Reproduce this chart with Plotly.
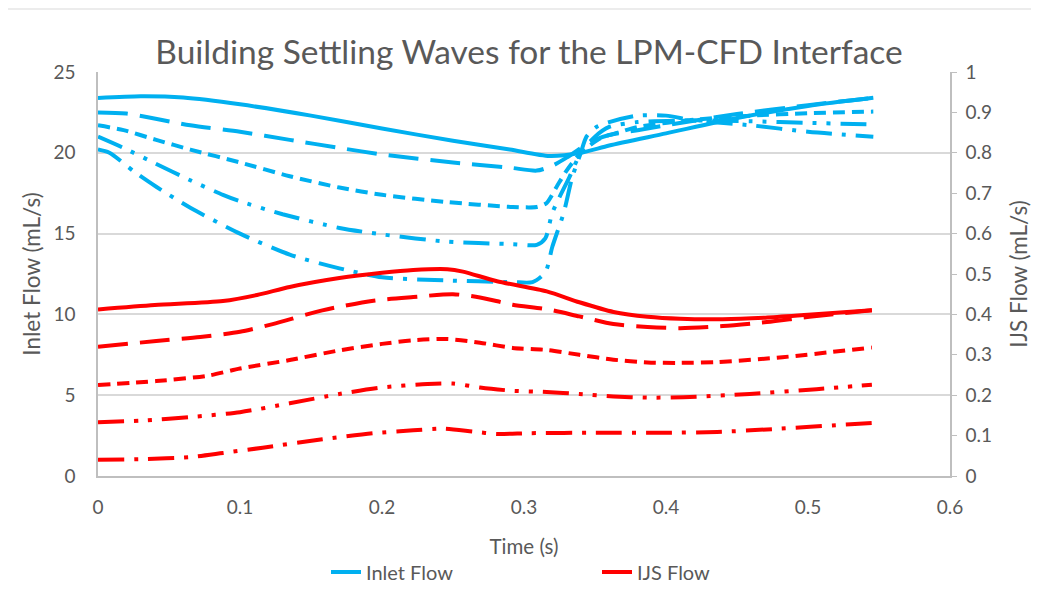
import plotly.graph_objects as go

# ---------------- data ----------------
# Inlet flow (left axis, mL/s)
inlet_solid_t = [0, 0.03, 0.06, 0.1, 0.15, 0.2, 0.25, 0.29, 0.318, 0.34, 0.36, 0.4, 0.45, 0.5, 0.546]
inlet_solid_v = [23.39, 23.5, 23.42, 23.0, 22.3, 21.5, 20.75, 20.2, 19.8, 20.0, 20.45, 21.2, 22.15, 22.9, 23.4]

inlet_ld_t = [0, 0.02, 0.065, 0.1, 0.135, 0.17, 0.2, 0.25, 0.29, 0.309, 0.32, 0.33, 0.34, 0.35, 0.36, 0.38, 0.4, 0.45, 0.5, 0.546]
inlet_ld_v = [22.5, 22.43, 21.7, 21.3, 20.8, 20.3, 19.9, 19.4, 19.08, 18.9, 19.2, 19.7, 20.3, 20.8, 21.1, 21.4, 21.7, 22.4, 22.95, 23.4]

inlet_sd_t = [0, 0.018, 0.041, 0.065, 0.1, 0.135, 0.17, 0.2, 0.246, 0.292, 0.309, 0.316, 0.323, 0.33, 0.34, 0.354, 0.368, 0.38, 0.42, 0.46, 0.5, 0.546]
inlet_sd_v = [21.7, 21.4, 20.8, 20.2, 19.4, 18.55, 17.85, 17.4, 16.95, 16.65, 16.65, 16.9, 17.9, 18.9, 20.0, 20.9, 21.3, 21.6, 22.05, 22.3, 22.45, 22.55]

inlet_ddd_t = [0, 0.018, 0.039, 0.065, 0.088, 0.1, 0.13, 0.17, 0.2, 0.246, 0.292, 0.309, 0.315, 0.32, 0.332, 0.34, 0.35, 0.36, 0.38, 0.42, 0.46, 0.5, 0.546]
inlet_ddd_v = [21.0, 20.3, 19.4, 18.3, 17.4, 17.0, 16.2, 15.35, 14.95, 14.5, 14.35, 14.3, 14.7, 16.3, 18.5, 20.0, 21.0, 21.6, 21.9, 22.0, 21.95, 21.85, 21.75]

inlet_ldd_t = [0, 0.008, 0.026, 0.041, 0.065, 0.1, 0.135, 0.17, 0.2, 0.246, 0.292, 0.306, 0.315, 0.32, 0.328, 0.334, 0.34, 0.344, 0.351, 0.36, 0.38, 0.4, 0.42, 0.46, 0.5, 0.546]
inlet_ldd_v = [20.2, 20.0, 18.8, 17.9, 16.6, 15.0, 13.7, 12.85, 12.3, 12.1, 12.0, 12.0, 12.6, 14.2, 16.3, 18.5, 20.0, 21.0, 21.6, 21.9, 22.3, 22.3, 22.0, 21.7, 21.3, 21.0]

# IJS flow (right axis, mL/s)
ijs_solid_t = [0, 0.04, 0.088, 0.112, 0.135, 0.17, 0.2, 0.222, 0.246, 0.257, 0.281, 0.316, 0.339, 0.363, 0.387, 0.41, 0.44, 0.47, 0.5, 0.545]
ijs_solid_v = [0.412, 0.423, 0.433, 0.448, 0.468, 0.49, 0.503, 0.51, 0.512, 0.506, 0.482, 0.457, 0.43, 0.406, 0.394, 0.389, 0.388, 0.392, 0.399, 0.41]

ijs_ld_t = [0, 0.041, 0.072, 0.1, 0.123, 0.158, 0.194, 0.222, 0.25, 0.269, 0.292, 0.316, 0.339, 0.363, 0.387, 0.41, 0.44, 0.471, 0.501, 0.545]
ijs_ld_v = [0.32, 0.334, 0.344, 0.357, 0.376, 0.41, 0.434, 0.443, 0.45, 0.442, 0.424, 0.413, 0.395, 0.376, 0.369, 0.366, 0.371, 0.381, 0.394, 0.41]

ijs_sd_t = [0, 0.041, 0.077, 0.1, 0.135, 0.17, 0.2, 0.222, 0.246, 0.269, 0.292, 0.316, 0.339, 0.363, 0.387, 0.41, 0.436, 0.482, 0.545]
ijs_sd_v = [0.225, 0.235, 0.248, 0.266, 0.287, 0.311, 0.327, 0.336, 0.339, 0.33, 0.317, 0.312, 0.3, 0.288, 0.281, 0.28, 0.282, 0.294, 0.318]

ijs_ddd_t = [0, 0.03, 0.065, 0.1, 0.135, 0.17, 0.2, 0.232, 0.25, 0.269, 0.292, 0.316, 0.339, 0.363, 0.387, 0.412, 0.459, 0.506, 0.545]
ijs_ddd_v = [0.133, 0.137, 0.146, 0.158, 0.18, 0.203, 0.219, 0.228, 0.229, 0.219, 0.211, 0.208, 0.203, 0.197, 0.194, 0.195, 0.203, 0.215, 0.226]

ijs_ldd_t = [0, 0.032, 0.065, 0.088, 0.116, 0.158, 0.194, 0.222, 0.243, 0.264, 0.281, 0.304, 0.35, 0.4, 0.436, 0.475, 0.53, 0.545]
ijs_ldd_v = [0.04, 0.042, 0.047, 0.057, 0.07, 0.091, 0.106, 0.113, 0.117, 0.11, 0.104, 0.106, 0.107, 0.107, 0.109, 0.116, 0.128, 0.131]

x_ticks = [0, 0.1, 0.2, 0.3, 0.4, 0.5, 0.6]

# ---------------- styling ----------------
BLUE = "#00B0F0"
RED = "#FF0000"
FONT = "Lato"
GREY = "#595959"
W = 4

dashes = {
    "solid": "solid",
    "ld": "30px,12px",
    "sd": "12px,7px",
    "ddd": "26px,10px,4px,10px,4px,10px",
    "ldd": "26px,10px,4px,10px",
}

fig = go.Figure()

inlet_series = [
    ("solid", inlet_solid_t, inlet_solid_v),
    ("ld", inlet_ld_t, inlet_ld_v),
    ("sd", inlet_sd_t, inlet_sd_v),
    ("ddd", inlet_ddd_t, inlet_ddd_v),
    ("ldd", inlet_ldd_t, inlet_ldd_v),
]
ijs_series = [
    ("solid", ijs_solid_t, ijs_solid_v),
    ("ld", ijs_ld_t, ijs_ld_v),
    ("sd", ijs_sd_t, ijs_sd_v),
    ("ddd", ijs_ddd_t, ijs_ddd_v),
    ("ldd", ijs_ldd_t, ijs_ldd_v),
]

for key, t, v in inlet_series:
    fig.add_trace(go.Scatter(
        x=t, y=v, mode="lines", name="Inlet Flow",
        line=dict(color=BLUE, width=W, dash=dashes[key], shape="spline", smoothing=0.7),
        showlegend=(key == "solid"), legendgroup="inlet", yaxis="y",
    ))
for key, t, v in ijs_series:
    fig.add_trace(go.Scatter(
        x=t, y=v, mode="lines", name="IJS Flow",
        line=dict(color=RED, width=W, dash=dashes[key], shape="spline", smoothing=0.7),
        showlegend=(key == "solid"), legendgroup="ijs", yaxis="y2",
    ))

FW, FH = 1031, 591   # page adds an 8px body margin
fig.update_layout(
    width=FW, height=FH,
    margin=dict(l=90, r=89, t=64, b=123, autoexpand=False),
    paper_bgcolor="white", plot_bgcolor="white",
    font=dict(family=FONT, color=GREY, size=19),
    title=dict(text="Building Settling Waves for the LPM-CFD Interface",
               x=(529 - 8) / FW, xanchor="center", y=1 - 44 / FH, yanchor="middle",
               font=dict(family=FONT, size=33.5, color=GREY)),
    xaxis=dict(range=[0, 0.6], tickvals=x_ticks, showgrid=False, zeroline=False,
               showline=True, linecolor="#bfbfbf", linewidth=1.5,
               ticklabelstandoff=13, tickfont=dict(size=19, color=GREY),
               title=dict(text="Time (s)", font=dict(size=20.5, color=GREY), standoff=23)),
    yaxis=dict(range=[0, 25], dtick=5, showgrid=True, gridcolor="#d9d9d9", gridwidth=1.5,
               zeroline=False, showline=True, linecolor="#bfbfbf", linewidth=1.5,
               ticklabelstandoff=17, tickfont=dict(size=19, color=GREY),
               title=dict(text="Inlet Flow (mL/s)", font=dict(size=22.5, color=GREY), standoff=7)),
    yaxis2=dict(range=[0, 1], dtick=0.1, overlaying="y", side="right", showgrid=False,
                zeroline=False, showline=True, linecolor="#bfbfbf", linewidth=1.5,
                ticks="outside", ticklen=5, tickcolor="#bfbfbf",
                ticklabelstandoff=5, tickfont=dict(size=19, color=GREY),
                title=dict(text="IJS Flow (mL/s)", font=dict(size=22.5, color=GREY), standoff=20)),
    legend=dict(orientation="h", x=(326 - 98) / 852, xanchor="left", y=(476 - 572) / 404, yanchor="middle",
                font=dict(size=20, color=GREY), entrywidth=226, entrywidthmode="pixels",
                bgcolor="rgba(0,0,0,0)"),
    shapes=[dict(type="rect", xref="paper", yref="paper",
                 x0=(7 - 98) / 852, x1=(1045 - 98) / 852,
                 y0=(476 - 605) / 404, y1=(476 - 9) / 404,
                 line=dict(color="#d9d9d9", width=1), fillcolor="rgba(0,0,0,0)", layer="below")],
)

fig.write_html("out.html")
